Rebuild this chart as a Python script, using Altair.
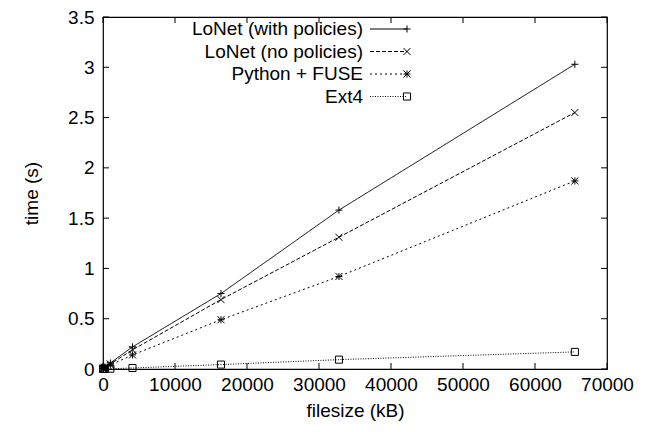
import altair as alt
import pandas as pd

# ---- data ----
filesize = [16, 64, 256, 1024, 4096, 16384, 32768, 65536]
series = ["LoNet (with policies)", "LoNet (no policies)", "Python + FUSE", "Ext4"]
lonet_with = [0.005, 0.01, 0.02, 0.06, 0.22, 0.75, 1.58, 3.03]
lonet_no = [0.004, 0.008, 0.018, 0.05, 0.19, 0.69, 1.31, 2.55]
python_fuse = [0.003, 0.006, 0.014, 0.04, 0.14, 0.49, 0.92, 1.87]
ext4 = [0.001, 0.001, 0.002, 0.003, 0.01, 0.044, 0.093, 0.17]
x_ticks = [0, 10000, 20000, 30000, 40000, 50000, 60000, 70000]
y_ticks = [0, 0.5, 1, 1.5, 2, 2.5, 3, 3.5]

values = [lonet_with, lonet_no, python_fuse, ext4]
rows = []
for name, vals in zip(series, values):
    for fs, t in zip(filesize, vals):
        rows.append({"series": name, "filesize": fs, "time": t})
df = pd.DataFrame(rows)

TOP = 9
W, H = 504, 352
FONT = "Liberation Sans"
FS = 19

plus = "M-1,0L1,0M0,-1L0,1"
cross = "M-1,-1L1,1M-1,1L1,-1"
star = "M-1,0L1,0M0,-1L0,1M-1,-1L1,1M-1,1L1,-1"
shapes = [plus, cross, star, "square"]
dashes = [[1, 0], [4, 2], [2, 3], [1, 1.5]]

xscale = alt.Scale(domain=[0, 70000], nice=False)
yscale = alt.Scale(domain=[0, 3.5], nice=False)

xenc = alt.X("filesize:Q", scale=xscale,
             axis=alt.Axis(values=x_ticks, labelExpr="datum.value", title="filesize (kB)",
                           labelPadding=6, titlePadding=7, labelOverlap=False, labelBound=False,
                           labelFlush=False))
yenc = alt.Y("time:Q", scale=yscale,
             axis=alt.Axis(values=y_ticks, labelExpr="datum.value", title="time (s)",
                           labelPadding=9, titlePadding=26, labelOverlap=False, labelBound=False,
                           labelFlush=False))

lines = alt.Chart(df).mark_line(color="black", strokeWidth=1).encode(
    x=xenc, y=yenc,
    strokeDash=alt.StrokeDash("series:N", scale=alt.Scale(domain=series, range=dashes), legend=None),
    detail="series:N",
)
points = alt.Chart(df).mark_point(color="black", filled=False, strokeWidth=1, size=50, opacity=1).encode(
    x=alt.X("filesize:Q", scale=xscale),
    y=alt.Y("time:Q", scale=yscale),
    shape=alt.Shape("series:N", scale=alt.Scale(domain=series, range=shapes), legend=None),
)

ydf = pd.DataFrame({"v": y_ticks})
xdf = pd.DataFrame({"v": x_ticks})
TL = 6
ytick_l = alt.Chart(ydf).mark_rule(color="black", strokeWidth=1).encode(
    y=alt.Y("v:Q", scale=yscale), x=alt.value(0), x2=alt.value(TL))
ytick_r = alt.Chart(ydf).mark_rule(color="black", strokeWidth=1).encode(
    y=alt.Y("v:Q", scale=yscale), x=alt.value(W - TL), x2=alt.value(W))
xtick_b = alt.Chart(xdf).mark_rule(color="black", strokeWidth=1).encode(
    x=alt.X("v:Q", scale=xscale), y=alt.value(H - TL), y2=alt.value(H))
xtick_t = alt.Chart(xdf).mark_rule(color="black", strokeWidth=1).encode(
    x=alt.X("v:Q", scale=xscale), y=alt.value(0), y2=alt.value(TL))

# ---- gnuplot-style key ----
legend_layers = []
key_text_x = 260
key_line_x1, key_line_x2 = 267, 304
key_y0, key_dy = 29 - 8 - TOP, 22.5
ldf = pd.DataFrame({"series": series})
for i, name in enumerate(series):
    yy = key_y0 + i * key_dy
    one = alt.Chart(ldf).transform_filter(alt.datum.series == name)
    legend_layers.append(one.mark_text(align="right", baseline="middle", font=FONT, fontSize=FS,
                                       color="black").encode(
        text="series:N", x=alt.value(key_text_x), y=alt.value(yy)))
    legend_layers.append(one.mark_rule(color="black", strokeWidth=1, strokeDash=dashes[i]).encode(
        x=alt.value(key_line_x1), x2=alt.value(key_line_x2), y=alt.value(yy)))
    legend_layers.append(one.mark_point(color="black", filled=False, strokeWidth=1, size=50,
                                        opacity=1, shape=shapes[i]).encode(
        x=alt.value(key_line_x2), y=alt.value(yy)))

chart = alt.layer(lines, points, ytick_l, ytick_r, xtick_b, xtick_t, *legend_layers).properties(
    width=W, height=H,
    background="white",
    autosize=alt.AutoSizeParams(type="none"),
    padding={"left": 95, "top": TOP, "right": 35, "bottom": 432 - 16 - TOP - H},
).configure_view(stroke="black", strokeWidth=1.2).configure_axis(
    domain=False, ticks=False, grid=False,
    labelFont=FONT, labelFontSize=FS, labelColor="black",
    titleFont=FONT, titleFontSize=FS, titleColor="black", titleFontWeight="normal",
)

chart.save("out.html", embed_options={"renderer": "svg", "actions": False})
